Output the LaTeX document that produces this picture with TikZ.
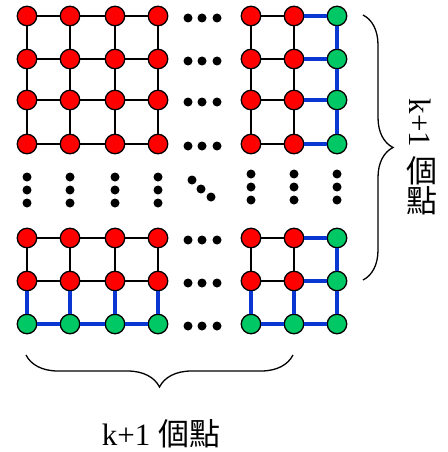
\documentclass[tikz,border=0pt]{standalone}
\usepackage{fontspec}
\setmainfont{Liberation Serif}
\newfontfamily\cjk{Noto Sans CJK TC}
\usetikzlibrary{decorations.pathreplacing}
\definecolor{nred}{RGB}{255,0,0}
\definecolor{ngreen}{RGB}{0,200,100}
\definecolor{eblue}{RGB}{10,55,210}
\begin{document}
\begin{tikzpicture}[x=1pt,y=-1pt,
  rn/.style={circle,draw=black,line width=1.3pt,fill=nred,minimum size=19.5pt,inner sep=0pt},
  gn/.style={rn,fill=ngreen},
  bk/.style={draw=black,line width=1.5pt},
  bl/.style={draw=eblue,line width=3.2pt},
  dotn/.style={circle,fill=black,minimum size=9pt,inner sep=0pt},
  bracestyle/.style={decorate,decoration={brace,amplitude=#1},line width=1.3pt},
  lbl/.style={font=\fontsize{31}{32}\selectfont,inner sep=0pt}]
\useasboundingbox (0,0) rectangle (447,452);
% grid nodes
\foreach \x [count=\i] in {27,70,115,158,251,294,337}{
  \foreach \y [count=\j] in {16,59,100,144,238,281,324}{
    \ifnum\i=7 \def\st{gn}\else\ifnum\j=7 \def\st{gn}\else\def\st{rn}\fi\fi
    \node[\st] (n\i-\j) at (\x,\y) {};
  }
}
% horizontal edges
\foreach \i in {1,2,3,5,6}{
  \foreach \j in {1,...,7}{
    \pgfmathtruncatemacro\k{\i+1}
    \ifnum\k=7 \def\es{bl}\else\ifnum\j=7 \def\es{bl}\else\def\es{bk}\fi\fi
    \path[\es] (n\i-\j) -- (n\k-\j);
  }
}
% vertical edges
\foreach \j in {1,2,3,5,6}{
  \foreach \i in {1,...,7}{
    \pgfmathtruncatemacro\k{\j+1}
    \ifnum\k=7 \def\es{bl}\else\ifnum\i=7 \def\es{bl}\else\def\es{bk}\fi\fi
    \path[\es] (n\i-\j) -- (n\i-\k);
  }
}
% horizontal ellipsis dots
\foreach \y [count=\j] in {16,59,100,144,238,281,324}{
  \foreach \x [count=\m] in {188,202,217}{
    \node[dotn] (h\j-\m) at (\x,\y+2) {};
  }
}
% vertical ellipsis dots
\foreach \x [count=\i] in {27,70,115,158}{
  \foreach \y [count=\m] in {177,190,203}{
    \node[dotn] (v\i-\m) at (\x,\y) {};
  }
}
\foreach \x [count=\i from 5] in {251,294,337}{
  \foreach \y [count=\m] in {174,187,200}{
    \node[dotn] (v\i-\m) at (\x,\y) {};
  }
}
% diagonal dots
\node[dotn] (d1) at (192,180) {};
\node[dotn] (d2) at (201,189) {};
\node[dotn] (d3) at (211,197) {};
% braces
\coordinate (rb1) at (363,15);
\coordinate (rb2) at (363,280);
\draw[bracestyle=30pt] (rb1) -- (rb2);
\coordinate (bb1) at (293,355);
\coordinate (bb2) at (26,355);
\draw[bracestyle=32pt] (bb1) -- (bb2);
% labels
\node[lbl,anchor=base] (bt) at (161,445) {k+1 {\cjk 個點}};
\node[lbl,rotate=-90] (rk) at (420,123) {k+1};
\node[lbl] (rc1) at (422,171) {\cjk 個};
\node[lbl] (rc2) at (422,201) {\cjk 點};
\end{tikzpicture}
\end{document}
